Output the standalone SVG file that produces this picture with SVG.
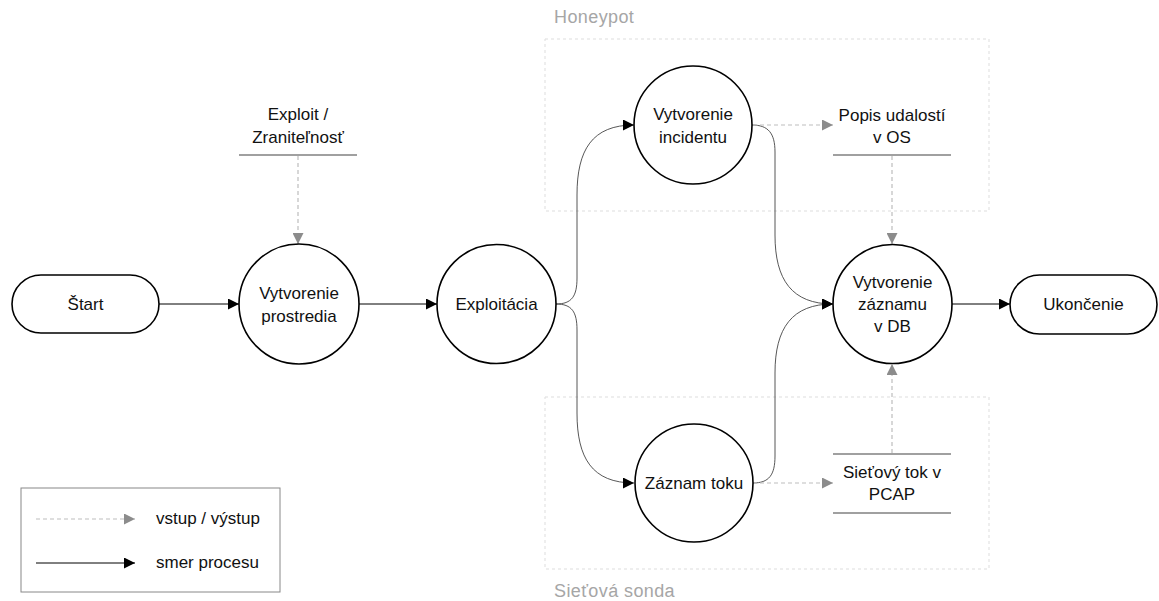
<svg xmlns="http://www.w3.org/2000/svg" width="1159" height="601" viewBox="0 0 1159 601">
<style>
.node{fill:#fff;stroke:#000;stroke-width:1.6}
.t{font-family:"Liberation Sans",Arial,sans-serif;font-size:17px;fill:#111;text-anchor:middle}
.tl{font-family:"Liberation Sans",Arial,sans-serif;font-size:17px;fill:#111}
.grp{fill:none;stroke:#ddd;stroke-width:1;stroke-dasharray:3,3}
.gl{font-family:"Liberation Sans",Arial,sans-serif;font-size:18px;fill:#a6a6a6;letter-spacing:0.4px}
.store{stroke:#808080;stroke-width:1.3}
.flow{fill:none;stroke:#000;stroke-width:1;marker-end:url(#ab)}
.curve{fill:none;stroke:#444;stroke-width:0.9;marker-end:url(#ab)}
.io{fill:none;stroke:#bdbdbd;stroke-width:1.2;stroke-dasharray:4,3;marker-end:url(#ag)}
</style>
<defs>
<marker id="ab" markerUnits="userSpaceOnUse" markerWidth="11" markerHeight="11" refX="11" refY="5.5" orient="auto"><path d="M0,0 L11,5.5 L0,11 z" fill="#000"/></marker>
<marker id="ag" markerUnits="userSpaceOnUse" markerWidth="11" markerHeight="11" refX="11" refY="5.5" orient="auto"><path d="M0,0 L11,5.5 L0,11 z" fill="#8c8c8c"/></marker>
</defs>
<rect width="1159" height="601" fill="#fff"/>

<g id="group-honeypot">
<rect class="grp" x="545" y="39" width="444" height="172"/>
<text class="gl" x="554" y="23">Honeypot</text>
</g>
<g id="group-sonda">
<rect class="grp" x="545" y="397" width="444" height="172"/>
<text class="gl" x="554" y="597">Sieťová sonda</text>
</g>

<g id="connectors">
<line class="flow" x1="159" y1="304" x2="239" y2="304"/>
<line class="flow" x1="359" y1="304" x2="437" y2="304"/>
<path class="curve" d="M556,304 C572,304 577,296 577,278 L577,195 C577,150 592,125 634,125"/>
<path class="curve" d="M556,304 C572,304 577,312 577,330 L577,413 C577,458 592,483 634,483"/>
<path class="curve" d="M752,125 C768,125 775,133 775,152 L775,235 C775,280 792,304 833,304"/>
<path class="curve" d="M753,483 C769,483 775,475 775,456 L775,373 C775,328 792,304 833,304"/>
<line class="flow" x1="952" y1="304" x2="1010" y2="304"/>
<line class="io" x1="298" y1="156" x2="298" y2="244"/>
<line class="io" x1="753" y1="125" x2="833" y2="125"/>
<line class="io" x1="892" y1="156" x2="892" y2="244"/>
<line class="io" x1="753" y1="483" x2="833" y2="483"/>
<line class="io" x1="892" y1="453" x2="892" y2="364"/>
</g>

<g id="start">
<rect class="node" x="12" y="275" width="147" height="58" rx="29"/>
<text class="t" x="85.5" y="310">Štart</text>
</g>
<g id="vytvorenie-prostredia">
<circle class="node" cx="299" cy="304" r="60"/>
<text class="t" x="299" y="299">Vytvorenie</text>
<text class="t" x="299" y="322">prostredia</text>
</g>
<g id="exploit">
<text class="t" x="298" y="120">Exploit /</text>
<text class="t" x="298" y="143">Zraniteľnosť</text>
<line class="store" x1="239" y1="155" x2="357" y2="155"/>
</g>
<g id="exploitacia">
<circle class="node" cx="496.5" cy="304" r="59.5"/>
<text class="t" x="496.5" y="310">Exploitácia</text>
</g>
<g id="vytvorenie-incidentu">
<circle class="node" cx="693" cy="125" r="59"/>
<text class="t" x="693" y="120">Vytvorenie</text>
<text class="t" x="693" y="143">incidentu</text>
</g>
<g id="popis-udalosti">
<text class="t" x="892" y="121">Popis udalostí</text>
<text class="t" x="892" y="143">v OS</text>
<line class="store" x1="833" y1="155" x2="951" y2="155"/>
</g>
<g id="zaznam-toku">
<circle class="node" cx="694" cy="483" r="59"/>
<text class="t" x="694" y="489">Záznam toku</text>
</g>
<g id="sietovy-tok">
<line class="store" x1="833" y1="454" x2="951" y2="454"/>
<text class="t" x="892" y="478">Sieťový tok v</text>
<text class="t" x="892" y="500">PCAP</text>
<line class="store" x1="833" y1="513" x2="951" y2="513"/>
</g>
<g id="vytvorenie-zaznamu">
<circle class="node" cx="892.5" cy="304" r="59.5"/>
<text class="t" x="892.5" y="288">Vytvorenie</text>
<text class="t" x="892.5" y="310">záznamu</text>
<text class="t" x="892.5" y="332">v DB</text>
</g>
<g id="ukoncenie">
<rect class="node" x="1010" y="275" width="147" height="59" rx="29.5"/>
<text class="t" x="1083.5" y="310">Ukončenie</text>
</g>

<g id="legend">
<rect x="21" y="488" width="259" height="104" fill="#fff" stroke="#888" stroke-width="1"/>
<line class="io" x1="36" y1="519" x2="135" y2="519"/>
<text class="tl" x="156" y="524">vstup / výstup</text>
<line class="flow" x1="36" y1="563" x2="135" y2="563"/>
<text class="tl" x="156" y="568">smer procesu</text>
</g>
</svg>
